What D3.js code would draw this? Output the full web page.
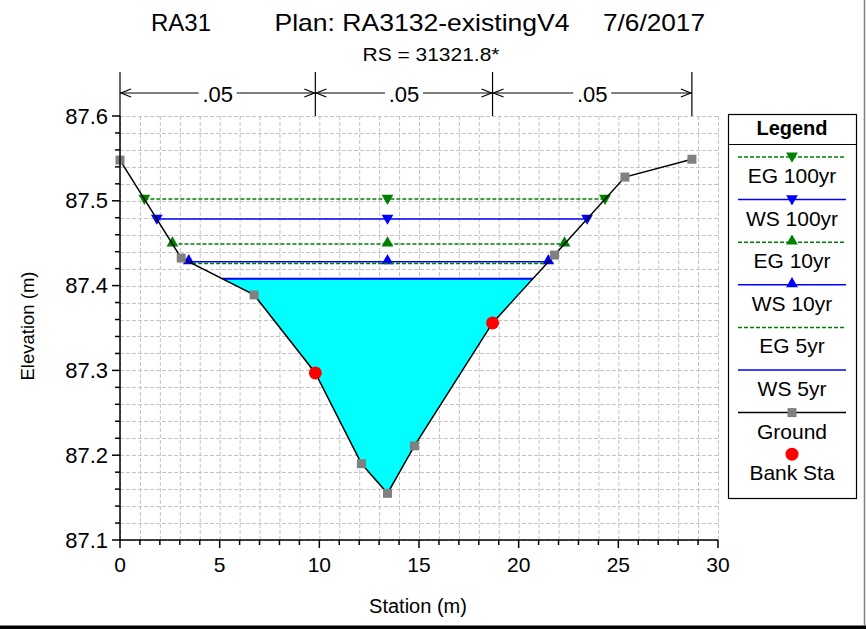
<!DOCTYPE html>
<html><head><meta charset="utf-8">
<script src="https://cdn.jsdelivr.net/npm/d3@7"></script>
<style>
html,body{margin:0;padding:0;background:#fff;}
svg{display:block;font-family:"Liberation Sans",Arial,sans-serif;}
</style></head>
<body>
<svg id="chart" width="866" height="629"></svg>
<script>
// ---- data ----
const groundStation = [0, 3.07, 6.73, 9.8, 12.11, 13.42, 14.77, 18.69, 21.8, 25.33, 28.69];
const groundElev    = [87.548, 87.4325, 87.389, 87.297, 87.19, 87.155, 87.211, 87.356, 87.436, 87.528, 87.549];
const bankStations  = [9.8, 18.69];
const nValueStations = [0, 9.8, 18.69, 28.69];
const nValues = [".05", ".05", ".05"];
const profileNames = ["EG 100yr", "WS 100yr", "EG 10yr", "WS 10yr", "EG 5yr", "WS 5yr"];
const profileElev  = [87.502, 87.4785, 87.449, 87.428, 87.426, 87.408];
const profileKind  = ["EG", "WS", "EG", "WS", "EG", "WS"];
const profileMarker = ["down", "down", "up", "up", "none", "none"];
const xTicks = [0, 5, 10, 15, 20, 25, 30];
const yTicks = [87.1, 87.2, 87.3, 87.4, 87.5, 87.6];
const titleParts = ["RA31", "Plan: RA3132-existingV4", "7/6/2017"];
const subtitle = "RS = 31321.8*";

// ---- setup ----
const svg = d3.select("#chart");
const X0 = 120, X1 = 718, Y0 = 540, Y1 = 116;
const x = d3.scaleLinear().domain([0, 30]).range([X0, X1]);
const y = d3.scaleLinear().domain([87.1, 87.6]).range([Y0, Y1]);
const colEG = "#008000", colWS = "#0000ff";

// grid
const gGrid = svg.append("g").attr("stroke", "#c4c4c4").attr("stroke-width", 1).attr("stroke-dasharray", "4,2");
d3.range(0, 31).forEach(v => {
  gGrid.append("line").attr("x1", x(v)+0.5).attr("x2", x(v)+0.5).attr("y1", Y1).attr("y2", Y0);
});
d3.range(0, 26).forEach(i => {
  const v = 87.1 + i*0.02;
  gGrid.append("line").attr("x1", X0).attr("x2", X1).attr("y1", Math.round(y(v))+0.5).attr("y2", Math.round(y(v))+0.5);
});

// helper: intersections of level with ground
function crossings(level) {
  const res = [];
  for (let i = 0; i < groundStation.length - 1; i++) {
    const a = groundElev[i], b = groundElev[i+1];
    if ((a - level) * (b - level) <= 0 && a !== b) {
      const t = (level - a) / (b - a);
      res.push(groundStation[i] + t * (groundStation[i+1] - groundStation[i]));
    }
  }
  return [res[0], res[res.length-1]];
}
const minIdx = groundElev.indexOf(d3.min(groundElev));
const midStation = groundStation[minIdx];

// water fill (WS 5yr)
const wsLow = profileElev[5];
const [fl, fr] = crossings(wsLow);
const fillPts = [[fl, wsLow]];
groundStation.forEach((s, i) => { if (s > fl && s < fr) fillPts.push([s, groundElev[i]]); });
fillPts.push([fr, wsLow]);
svg.append("path").attr("d", d3.line().x(d => x(d[0])).y(d => y(d[1]))(fillPts) + "Z")
  .attr("fill", "#00ffff").attr("stroke", "none");

// profile lines
const tri = d3.symbol().type(d3.symbolTriangle).size(60);
profileNames.forEach((name, i) => {
  const lev = profileElev[i];
  const [l, r] = crossings(lev);
  const col = profileKind[i] === "EG" ? colEG : colWS;
  svg.append("line").attr("x1", x(l)).attr("x2", x(r)).attr("y1", y(lev)).attr("y2", y(lev))
    .attr("stroke", col).attr("stroke-width", i === 5 ? 2 : 1.5)
    .attr("stroke-dasharray", profileKind[i] === "EG" ? "4,2" : null);
  if (profileMarker[i] !== "none") {
    [l, midStation, r].forEach(s => {
      svg.append("path").attr("d", tri())
        .attr("transform", `translate(${x(s)},${y(lev) - 1}) rotate(${profileMarker[i] === "down" ? 180 : 0})`)
        .attr("fill", col);
    });
  }
});

// ground line
svg.append("path").attr("d", d3.line().x((d, i) => x(groundStation[i])).y((d, i) => y(groundElev[i]))(groundStation))
  .attr("fill", "none").attr("stroke", "#000").attr("stroke-width", 1.5);
groundStation.forEach((s, i) => {
  if (!bankStations.includes(s)) {
    svg.append("rect").attr("x", x(s) - 4.5).attr("y", y(groundElev[i]) - 4.5).attr("width", 9).attr("height", 9).attr("fill", "#808080");
  }
});
bankStations.forEach(s => {
  const i = groundStation.indexOf(s);
  svg.append("circle").attr("cx", x(s)).attr("cy", y(groundElev[i])).attr("r", 6.5).attr("fill", "#ff0000");
});

// axes
const ax = svg.append("g").attr("stroke", "#000").attr("stroke-width", 1.5);
ax.append("line").attr("x1", X0).attr("x2", X0).attr("y1", Y1).attr("y2", Y0);
ax.append("line").attr("x1", X0).attr("x2", X1).attr("y1", Y0).attr("y2", Y0);
d3.range(0, 31).forEach(v => {
  const major = v % 5 === 0;
  ax.append("line").attr("x1", x(v)).attr("x2", x(v)).attr("y1", Y0).attr("y2", Y0 + (major ? 8 : 5));
});
d3.range(0, 26).forEach(i => {
  const major = i % 5 === 0;
  const v = 87.1 + i*0.02;
  ax.append("line").attr("x1", X0 - (major ? 8 : 5)).attr("x2", X0).attr("y1", y(v)).attr("y2", y(v));
});
svg.append("g").selectAll("text").data(xTicks).join("text")
  .attr("x", d => x(d)).attr("y", 572).attr("text-anchor", "middle").attr("font-size", 21).text(d => d);
svg.append("g").selectAll("text").data(yTicks).join("text")
  .attr("x", 108).attr("y", d => y(d) + 7.5).attr("text-anchor", "end").attr("font-size", 22).text(d => d.toFixed(1));

svg.append("text").attr("x", 418).attr("y", 613).attr("text-anchor", "middle").attr("font-size", 20).text("Station (m)");
svg.append("text").attr("transform", "translate(34,326) rotate(-90)").attr("text-anchor", "middle").attr("font-size", 18.5).text("Elevation (m)");

// titles
const tCenters = [181, 422, 654];
const tWidths = [null, 295, 102];
titleParts.forEach((t, i) => {
  const tt = svg.append("text").attr("x", tCenters[i]).attr("y", 31).attr("text-anchor", "middle").attr("font-size", 24).text(t);
  if (tWidths[i]) tt.attr("textLength", tWidths[i]).attr("lengthAdjust", "spacingAndGlyphs");
});
svg.append("text").attr("x", 431).attr("y", 61).attr("text-anchor", "middle").attr("font-size", 19)
  .attr("textLength", 137).attr("lengthAdjust", "spacingAndGlyphs").text(subtitle);

// n-value brackets
const gN = svg.append("g").attr("stroke", "#000").attr("stroke-width", 1.2).attr("fill", "none");
const ny = 93;
nValueStations.forEach(s => gN.append("line").attr("x1", x(s)).attr("x2", x(s)).attr("y1", 72).attr("y2", Y1));
nValues.forEach((nv, i) => {
  const a = x(nValueStations[i]), b = x(nValueStations[i+1]), c = (a + b) / 2;
  gN.append("line").attr("x1", a).attr("x2", c - 19).attr("y1", ny).attr("y2", ny);
  gN.append("line").attr("x1", c + 19).attr("x2", b).attr("y1", ny).attr("y2", ny);
  gN.append("path").attr("d", `M${a+11},${ny-4}L${a+1},${ny}L${a+11},${ny+4}`);
  gN.append("path").attr("d", `M${b-11},${ny-4}L${b-1},${ny}L${b-11},${ny+4}`);
  svg.append("text").attr("x", c).attr("y", ny + 9).attr("text-anchor", "middle").attr("font-size", 22).text(nv);
});

// legend
const LX = 728, LY = 114, LW = 128, LH = 384;
svg.append("rect").attr("x", LX + 0.5).attr("y", LY + 0.5).attr("width", LW).attr("height", LH).attr("fill", "#fff").attr("stroke", "#000").attr("stroke-width", 1.2);
svg.append("text").attr("x", LX + LW/2).attr("y", 135).attr("text-anchor", "middle").attr("font-size", 20).attr("font-weight", "bold").text("Legend");
svg.append("line").attr("x1", LX).attr("x2", LX + LW).attr("y1", 144.5).attr("y2", 144.5).attr("stroke", "#000").attr("stroke-width", 1.2);
const legNames = profileNames.concat(["Ground", "Bank Sta"]);
legNames.forEach((name, i) => {
  const ly = 157 + i * 42.6;
  const cx = 792;
  if (i < 6) {
    const col = profileKind[i] === "EG" ? colEG : colWS;
    svg.append("line").attr("x1", 738).attr("x2", 846).attr("y1", ly).attr("y2", ly).attr("stroke", col).attr("stroke-width", 1.5)
      .attr("stroke-dasharray", profileKind[i] === "EG" ? "4,2" : null);
    if (profileMarker[i] !== "none") {
      svg.append("path").attr("d", tri()).attr("transform", `translate(${cx},${ly-1}) rotate(${profileMarker[i] === "down" ? 180 : 0})`).attr("fill", col);
    }
  } else if (i === 6) {
    svg.append("line").attr("x1", 738).attr("x2", 846).attr("y1", ly).attr("y2", ly).attr("stroke", "#000").attr("stroke-width", 1.5);
    svg.append("rect").attr("x", cx - 4.5).attr("y", ly - 4.5).attr("width", 9).attr("height", 9).attr("fill", "#808080");
  } else {
    svg.append("circle").attr("cx", cx).attr("cy", ly - 1).attr("r", 6.5).attr("fill", "#ff0000");
  }
  svg.append("text").attr("x", cx).attr("y", ly + (i === 7 ? 25 : 26)).attr("text-anchor", "middle").attr("font-size", 21).text(name);
});

// window frame
svg.append("line").attr("x1", 864.5).attr("x2", 864.5).attr("y1", 0).attr("y2", 626).attr("stroke", "#808080").attr("stroke-width", 1.5);
svg.append("rect").attr("x", 0).attr("y", 625).attr("width", 866).attr("height", 1.5).attr("fill", "#808080");
svg.append("rect").attr("x", 0).attr("y", 626).attr("width", 866).attr("height", 3).attr("fill", "#000");
</script>
</body></html>
